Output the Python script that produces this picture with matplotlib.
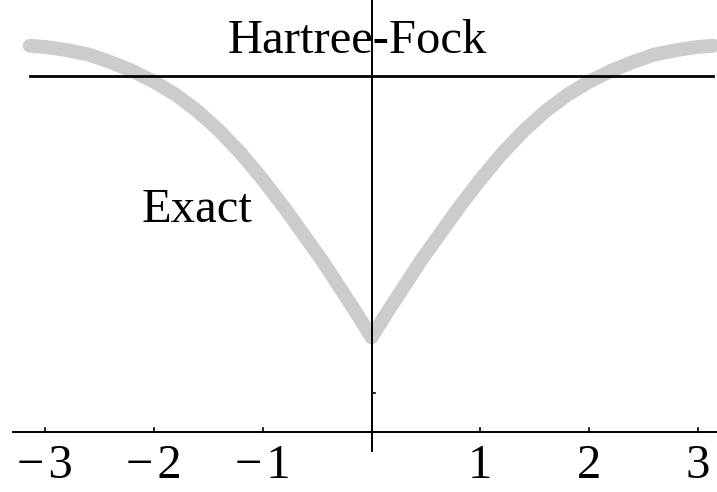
import numpy as np
import matplotlib.pyplot as plt

# exact energy, read for k >= 0 (curve is symmetric about k = 0)
k_half = [0.0, 0.15, 0.3, 0.45, 0.6, 0.8, 1.0, 1.2, 1.4, 1.6,
          1.8, 2.0, 2.2, 2.4, 2.6, 2.8, 3.0, np.pi]
e_exact_half = [0.87, 1.11, 1.34, 1.57, 1.78, 2.06, 2.32, 2.56, 2.77, 2.95,
                3.10, 3.22, 3.32, 3.40, 3.47, 3.51, 3.54, 3.55]

# Hartree-Fock energy is flat
e_hf = 3.27
k_range = [-np.pi, np.pi]

xticks = [-3, -2, -1, 1, 2, 3]
xtick_labels = ["\u2212\u200a3", "\u2212\u200a2", "\u2212\u200a1", "1", "2", "3"]
ytick = 0.36

k = np.concatenate([-np.array(k_half[:0:-1]), k_half])
e_exact = np.concatenate([e_exact_half[:0:-1], e_exact_half])

plt.rcParams['font.family'] = ['Liberation Serif', 'DejaVu Serif']

fig = plt.figure(figsize=(7.17, 4.92), dpi=100)
ax = fig.add_axes([0, 0, 1, 1])
ax.set_xlim(-3.415, 3.175)
ax.set_ylim(-0.551, 3.971)
ax.axis('off')

# thick grey exact curve underneath everything
ax.plot(k, e_exact, color='#cccccc', lw=10, solid_capstyle='round',
        solid_joinstyle='round', zorder=1)
ax.plot(k_range, [e_hf, e_hf], color='black', lw=2.0, zorder=3)

# axes drawn by hand, Mathematica style
ax.plot([-3.30, 3.175], [0, 0], color='black', lw=1.4, zorder=4)
ax.plot([0, 0], [-0.17, 3.971], color='black', lw=1.4, zorder=4)
for t, lab in zip(xticks, xtick_labels):
    ax.plot([t, t], [0, 0.035], color='black', lw=1.2, zorder=4)
    ax.text(t, -0.31, lab, ha='center', va='center', fontsize=35)
ax.plot([0, 0.035], [ytick, ytick], color='black', lw=1.2, zorder=4)

ax.text(-1.32, 3.48, "Hartree-Fock", ha='left', va='baseline', fontsize=35)
ax.text(-2.11, 1.93, "Exact", ha='left', va='baseline', fontsize=35)

fig.savefig('out.png', dpi=100)
